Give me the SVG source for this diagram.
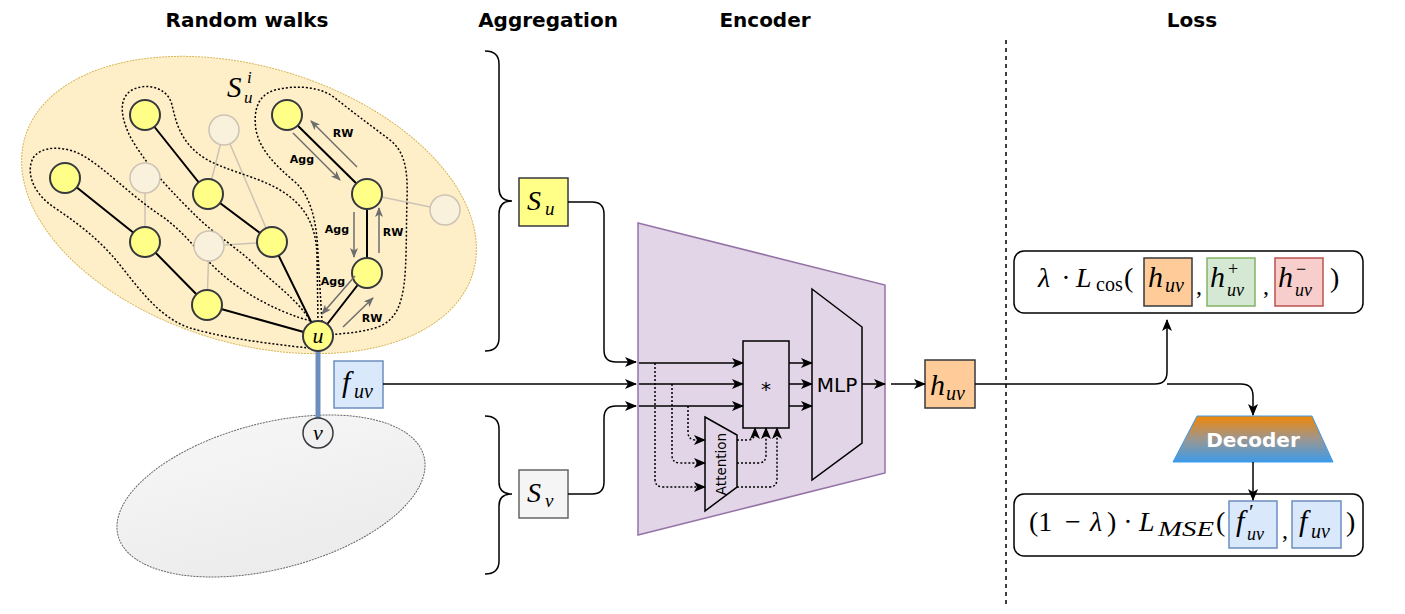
<svg xmlns="http://www.w3.org/2000/svg" width="1405" height="614" viewBox="0 0 1405 614">
<style>
.title{font-family:"DejaVu Sans","Liberation Sans",sans-serif;font-weight:bold;font-size:20px;text-anchor:middle;fill:#000}
.sans{font-family:"DejaVu Sans","Liberation Sans",sans-serif;fill:#000}
.m{font-family:"Liberation Serif","DejaVu Serif",serif;font-style:italic;fill:#000}
.r{font-family:"Liberation Serif","DejaVu Serif",serif;fill:#000}
.up{font-style:normal}
.lbl{font-family:"DejaVu Sans","Liberation Sans",sans-serif;font-weight:bold;font-size:11px;fill:#000;text-anchor:middle}
.node{fill:#ffff88;stroke:#36393d;stroke-width:2}
.fade{fill:#faf1dd;stroke:#cbc3b4;stroke-width:1.5}
.e{stroke:#000;stroke-width:2;fill:none}
.fe{stroke:#cbc3b4;stroke-width:1.5;fill:none}
.walk{fill:none;stroke:#000;stroke-width:1.5;stroke-dasharray:2 2}
.ga{stroke:#6d6d6d;stroke-width:1.5;fill:none;marker-end:url(#ga)}
.c{stroke:#000;stroke-width:1.5;fill:none}
.ca{stroke:#000;stroke-width:1.5;fill:none;marker-end:url(#a)}
.cd{stroke:#000;stroke-width:1.5;fill:none;stroke-dasharray:2 2;marker-end:url(#a)}
</style>
<defs>
<marker id="a" markerWidth="12" markerHeight="10" refX="11" refY="5" orient="auto" markerUnits="userSpaceOnUse"><path d="M0,0 L12,5 L0,10 L3,5 z" fill="#000"/></marker>
<marker id="ga" markerWidth="10" markerHeight="8" refX="9" refY="4" orient="auto" markerUnits="userSpaceOnUse"><path d="M0,0 L10,4 L0,8 L2.5,4 z" fill="#6d6d6d"/></marker>
<linearGradient id="dec" x1="0" y1="0" x2="0" y2="1"><stop offset="0" stop-color="#f08705"/><stop offset="0.5" stop-color="#9c9690"/><stop offset="1" stop-color="#3d9be9"/></linearGradient>
<linearGradient id="grey" x1="0" y1="0" x2="0" y2="1"><stop offset="0" stop-color="#f5f5f5"/><stop offset="1" stop-color="#ececec"/></linearGradient>
</defs>
<rect width="1405" height="614" fill="#fff"/>

<text class="title" x="247" y="27">Random walks</text>
<text class="title" x="548" y="27">Aggregation</text>
<text class="title" x="765" y="27">Encoder</text>
<text class="title" x="1192" y="27">Loss</text>
<line x1="1006" y1="40" x2="1006" y2="606" stroke="#000" stroke-width="1.5" stroke-dasharray="4 4"/>

<g id="walk-region-u">
<ellipse cx="249" cy="205" rx="234" ry="138" transform="rotate(17 249 205)" fill="#ffefc8" stroke="#d6b656" stroke-width="1" stroke-dasharray="2 1"/>
</g>
<g id="walk-region-v">
<ellipse cx="271" cy="496" rx="158" ry="73" transform="rotate(-14.5 271 496)" fill="url(#grey)" stroke="#666" stroke-width="1" stroke-dasharray="2 1"/>
</g>

<g id="graph-edges">
<path class="fe" d="M145,178 L145,242 M224,130 L208,194 M224,130 L272,242 M209,246 L272,242 M209,246 L207,305 M367,194 L445,210"/>
<path class="e" d="M145,115 L208,194 L272,242 L318,336 M65,178 L145,242 L207,305 L318,336 M287,115 L367,194 L367,273 L318,336"/>
</g>

<g id="walk-contours">
<path class="walk" d="M318,349 C290,346 230,340 190,328 C160,318 140,290 120,265 C100,240 80,225 55,208 C32,193 26,172 33,158 C42,145 65,146 82,155 C105,168 130,195 160,215 C190,235 205,265 240,288 C265,305 295,318 316,322"/>
<path class="walk" d="M316,330 C300,300 275,285 255,265 C240,250 215,235 195,215 C175,195 150,170 132,140 C120,118 118,98 132,90 C148,82 168,88 172,105 C176,122 180,140 200,155 C220,170 255,175 280,190 C305,205 316,225 317,255 L318,322"/>
<path class="walk" d="M322,322 L318,255 C317,220 310,195 295,182 C275,165 260,150 256,130 C253,110 258,95 275,90 C295,85 320,86 335,98 C350,110 370,125 390,140 C405,152 408,170 407,200 C406,230 407,260 404,285 C401,305 396,320 378,327 C360,333 345,333 330,335"/>
</g>

<g id="faded-nodes">
<circle class="fade" cx="145" cy="178" r="15"/>
<circle class="fade" cx="224" cy="130" r="15"/>
<circle class="fade" cx="209" cy="246" r="15"/>
<circle class="fade" cx="445" cy="210" r="15"/>
</g>
<g id="walk-nodes">
<circle class="node" cx="145" cy="115" r="15"/>
<circle class="node" cx="65" cy="178" r="15"/>
<circle class="node" cx="145" cy="242" r="15"/>
<circle class="node" cx="208" cy="194" r="15"/>
<circle class="node" cx="207" cy="305" r="15"/>
<circle class="node" cx="272" cy="242" r="15"/>
<circle class="node" cx="287" cy="115" r="15"/>
<circle class="node" cx="367" cy="194" r="15"/>
<circle class="node" cx="367" cy="273" r="15"/>
</g>

<g id="rw-agg">
<path class="ga" d="M357,167 L311,121"/>
<path class="ga" d="M293,133 L340,180"/>
<path class="ga" d="M354,212 L354,257"/>
<path class="ga" d="M379,253 L379,208"/>
<path class="ga" d="M355,276 L322,314"/>
<path class="ga" d="M343,327 L373,298"/>
<text class="lbl" x="343" y="137">RW</text>
<text class="lbl" x="302" y="163">Agg</text>
<text class="lbl" x="337" y="233">Agg</text>
<text class="lbl" x="393" y="236">RW</text>
<text class="lbl" x="333" y="285">Agg</text>
<text class="lbl" x="372" y="322">RW</text>
<text class="m" x="227" y="97" font-size="29">S<tspan x="247" y="83" font-size="17">i</tspan><tspan x="244" y="103" font-size="17">u</tspan></text>
</g>

<g id="edge-uv">
<line x1="318" y1="350" x2="318" y2="419" stroke="#6c8ebf" stroke-width="5"/>
</g>
<g id="node-u">
<circle class="node" cx="318" cy="336" r="15"/>
<text class="m" x="318" y="343" font-size="22" text-anchor="middle">u</text>
</g>
<g id="node-v">
<circle cx="318" cy="433" r="15" fill="#f0f0f0" stroke="#36393d" stroke-width="1.5"/>
<text class="m" x="318" y="440" font-size="22" text-anchor="middle">v</text>
</g>
<g id="f-uv">
<rect x="334" y="361" width="49" height="47" fill="#dae8fc" stroke="#6c8ebf" stroke-width="1.5"/>
<text class="m" x="342" y="392" font-size="30">f<tspan x="354" y="398" font-size="20">uv</tspan></text>
</g>

<g id="brackets">
<path class="c" d="M485,51 Q499,51 499,64 L499,188 Q499,201 512,201 Q499,201 499,214 L499,338 Q499,351 485,351"/>
<path class="c" d="M485,416 Q499,416 499,429 L499,482 Q499,494 512,494 Q499,494 499,506 L499,561 Q499,574 485,574"/>
</g>
<g id="S-u">
<rect x="519" y="178" width="49" height="48" fill="#ffff88" stroke="#36393d" stroke-width="1.5"/>
<text class="m" x="527" y="210" font-size="28">S<tspan x="545" y="215" font-size="19">u</tspan></text>
</g>
<g id="S-v">
<rect x="519" y="470" width="49" height="48" fill="#f5f5f5" stroke="#666" stroke-width="1.5"/>
<text class="m" x="527" y="502" font-size="28">S<tspan x="545" y="507" font-size="19">v</tspan></text>
</g>

<g id="encoder">
<polygon points="638,223 885,285 885,473 638,535" fill="#e1d5e7" stroke="#9673a6" stroke-width="1.5"/>
</g>
<g id="mult">
<rect x="743" y="341" width="46" height="87" fill="#e1d5e7" stroke="#000" stroke-width="1.5"/>
<text class="sans" x="766" y="396" font-size="20" text-anchor="middle">*</text>
</g>
<g id="mlp">
<polygon points="812,289 862,327 862,443 812,480" fill="#e1d5e7" stroke="#000" stroke-width="1.5"/>
<text class="sans" x="837" y="392" font-size="20" text-anchor="middle">MLP</text>
</g>
<g id="attention">
<polygon points="705,417 737,435 737,487 705,511" fill="#e1d5e7" stroke="#000" stroke-width="1.5"/>
<text class="sans" x="0" y="0" transform="translate(726,464) rotate(-90)" font-size="13.5" text-anchor="middle">Attention</text>
</g>
<g id="h-uv">
<rect x="925" y="360" width="50" height="48" fill="#ffcc99" stroke="#36393d" stroke-width="1.5"/>
<text class="m" x="930" y="395" font-size="30">h<tspan x="946" y="400" font-size="20">uv</tspan></text>
</g>

<g id="loss-cos">
<rect x="1014" y="251" width="349" height="62" rx="10" fill="#fff" stroke="#000" stroke-width="1.5"/>
<text class="m" x="1038" y="287" font-size="28">λ</text>
<text class="r" x="1066" y="287" font-size="28" text-anchor="middle">·</text>
<text class="m" x="1076" y="287" font-size="28">L<tspan class="up" x="1096" y="291" font-size="20">cos</tspan></text>
<text class="r" x="1124" y="287" font-size="28">(</text>
<rect x="1144" y="258" width="48" height="48" fill="#ffcc99" stroke="#36393d" stroke-width="1.5"/>
<text class="m" x="1148" y="287" font-size="30">h<tspan x="1165" y="292" font-size="20">uv</tspan></text>
<text class="r" x="1196" y="294" font-size="24">,</text>
<rect x="1207" y="258" width="48" height="48" fill="#d5e8d4" stroke="#82b366" stroke-width="1.5"/>
<text class="m" x="1210" y="287" font-size="30">h<tspan class="up" x="1228" y="275" font-size="18">+</tspan><tspan x="1227" y="296" font-size="18">uv</tspan></text>
<text class="r" x="1263" y="294" font-size="24">,</text>
<rect x="1275" y="258" width="48" height="48" fill="#f8cecc" stroke="#b85450" stroke-width="1.5"/>
<text class="m" x="1278" y="287" font-size="30">h<tspan class="up" x="1296" y="275" font-size="18">−</tspan><tspan x="1295" y="296" font-size="18">uv</tspan></text>
<text class="r" x="1330" y="287" font-size="28">)</text>
</g>

<g id="decoder">
<polygon points="1197,416 1312,416 1333,462 1173,462" fill="url(#dec)" stroke="#3d9be9" stroke-width="1"/>
<text class="sans" x="1253" y="447" font-weight="bold" font-size="20" text-anchor="middle" style="fill:#fff">Decoder</text>
</g>

<g id="loss-mse">
<rect x="1014" y="494" width="349" height="62" rx="10" fill="#fff" stroke="#000" stroke-width="1.5"/>
<text class="r" x="1029" y="531" font-size="28">(1</text>
<text class="r" x="1073" y="531" font-size="28" text-anchor="middle">−</text>
<text class="m" x="1090" y="531" font-size="28">λ</text>
<text class="r" x="1107" y="531" font-size="28">)</text>
<text class="r" x="1128" y="531" font-size="28" text-anchor="middle">·</text>
<text class="m" x="1139" y="531" font-size="28">L</text>
<text class="m" x="1158" y="536" font-size="21" textLength="56" lengthAdjust="spacingAndGlyphs">MSE</text>
<text class="r" x="1216" y="531" font-size="28">(</text>
<rect x="1229" y="501" width="48" height="47" fill="#dae8fc" stroke="#6c8ebf" stroke-width="1.5"/>
<text class="m" x="1236" y="531" font-size="30">f<tspan class="up" x="1249" y="519" font-size="22">′</tspan><tspan x="1247" y="540" font-size="18">uv</tspan></text>
<text class="r" x="1282" y="538" font-size="24">,</text>
<rect x="1292" y="501" width="49" height="47" fill="#dae8fc" stroke="#6c8ebf" stroke-width="1.5"/>
<text class="m" x="1299" y="531" font-size="30">f<tspan x="1311" y="538" font-size="20">uv</tspan></text>
<text class="r" x="1346" y="531" font-size="28">)</text>
</g>

<g id="connectors">
<path class="ca" d="M568,202 L592,202 Q604,202 604,214 L604,350 Q604,362 616,362 L636,362"/>
<path class="ca" d="M383,384 L636,384"/>
<path class="ca" d="M568,494 L592,494 Q604,494 604,482 L604,418 Q604,406 616,406 L636,406"/>
<path class="ca" d="M639,363 L743,363"/>
<path class="ca" d="M639,384 L743,384"/>
<path class="ca" d="M639,406 L743,406"/>
<path class="ca" d="M789,363 L812,363"/>
<path class="ca" d="M789,384 L812,384"/>
<path class="ca" d="M789,406 L812,406"/>
<path class="ca" d="M862,384 L885,384"/>
<path class="cd" d="M655,363 L655,479 Q655,487 663,487 L705,487"/>
<path class="cd" d="M672,384 L672,455 Q672,463 680,463 L705,463"/>
<path class="cd" d="M688,406 L688,432 Q688,440 696,440 L705,440"/>
<path class="cd" d="M737,440 L747,440 Q755,440 755,432 L755,428"/>
<path class="cd" d="M737,463 L758,463 Q766,463 766,455 L766,428"/>
<path class="cd" d="M737,487 L769,487 Q777,487 777,479 L777,428"/>
<path class="ca" d="M891,384 L925,384"/>
<path class="ca" d="M975,384 L1155,384 Q1167,384 1167,372 L1167,320"/>
<path class="ca" d="M1167,384 L1241,384 Q1253,384 1253,396 L1253,415"/>
<path class="ca" d="M1253,462 L1253,500"/>
</g>
</svg>
